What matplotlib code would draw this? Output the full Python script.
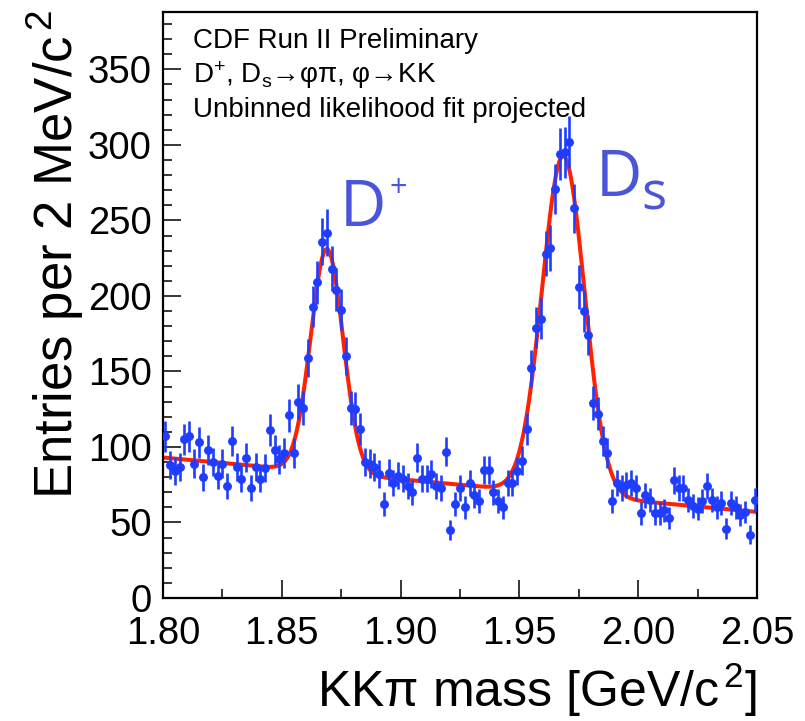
import numpy as np
import matplotlib
matplotlib.use("Agg")
import matplotlib.pyplot as plt
from matplotlib.ticker import MultipleLocator, FormatStrFormatter

# ---------------- data ----------------
mass_lo, mass_hi, bin_width = 1.80, 2.05, 0.002
counts = [107, 88, 84, 87, 105, 107, 89, 103, 80, 98,
          90, 81, 89, 74, 104, 87, 79, 93, 73, 87,
          79, 86, 111, 98, 92, 96, 121, 96, 130, 126,
          159, 193, 209, 236, 242, 218, 204, 191, 160, 126,
          125, 112, 90, 89, 87, 82, 62, 83, 76, 81,
          79, 74, 70, 93, 79, 79, 82, 74, 73, 97,
          45, 62, 73, 60, 76, 68, 64, 85, 85, 70,
          64, 60, 76, 76, 84, 91, 112, 152, 179, 185,
          228, 232, 271, 294, 295, 302, 258, 206, 190, 174,
          129, 122, 104, 96, 64, 76, 73, 75, 76, 73,
          56, 68, 65, 56, 56, 58, 53, 78, 73, 73,
          65, 61, 59, 64, 74, 65, 60, 63, 46, 63,
          60, 55, 57, 42, 65]

# fit projection parameters
bkg_at_lo = 93.0        # entries/bin at 1.80
bkg_slope = -144.0      # entries/bin per GeV
dplus_mean, dplus_sigma, dplus_amp = 1.8690, 0.0068, 148.0
ds_mean, ds_sigma, ds_amp = 1.9685, 0.0089, 224.0

xticks = [1.80, 1.85, 1.90, 1.95, 2.00, 2.05]
yticks = [0, 50, 100, 150, 200, 250, 300, 350]

# ---------------- figure ----------------
W, H = 805, 721
plt.rcParams['font.family'] = ['Liberation Sans', 'DejaVu Sans']
plt.rcParams['mathtext.fontset'] = 'custom'
plt.rcParams['mathtext.rm'] = 'Liberation Sans'
plt.rcParams['mathtext.it'] = 'Liberation Sans:italic'
plt.rcParams['mathtext.bf'] = 'Liberation Sans:bold'

fig = plt.figure(figsize=(W / 100, H / 100), dpi=100)
fig.patch.set_facecolor('white')

def px(x, y):
    return x / W, 1 - y / H

L, R, T, B = 163, 757, 12, 598
ax = fig.add_axes([L / W, 1 - B / H, (R - L) / W, (B - T) / H])

centers = mass_lo + bin_width * (np.arange(len(counts)) + 0.5)
counts_arr = np.array(counts, dtype=float)
errs = np.sqrt(counts_arr)

m = np.linspace(mass_lo, mass_hi, 1500)
model = (bkg_at_lo + bkg_slope * (m - mass_lo)
         + dplus_amp * np.exp(-0.5 * ((m - dplus_mean) / dplus_sigma) ** 2)
         + ds_amp * np.exp(-0.5 * ((m - ds_mean) / ds_sigma) ** 2))

ax.plot(m, model, color='#ff2200', lw=2.9, zorder=2, solid_capstyle='round')
ax.errorbar(centers, counts_arr, yerr=errs, fmt='o', color='#1f3dff',
            ms=5.4, elinewidth=1.9, capsize=0, zorder=3, mec='#1f3dff')

ax.set_xlim(mass_lo, mass_hi)
ax.set_ylim(0, 388)
ax.set_xticks(xticks)
ax.set_yticks(yticks)
ax.xaxis.set_major_formatter(FormatStrFormatter('%.2f'))
ax.xaxis.set_minor_locator(MultipleLocator(0.025))
ax.yaxis.set_minor_locator(MultipleLocator(10))
ax.tick_params(which='both', direction='in', top=False, right=False, colors='black')
ax.tick_params(which='major', length=12.8, width=1.1, labelsize=27.5)
ax.tick_params(which='minor', length=6.4, width=1.1)
ax.tick_params(axis='x', which='major', pad=13)
ax.tick_params(axis='y', which='major', pad=8)
for s in ax.spines.values():
    s.set_linewidth(1.6)
    s.set_color('black')

# axis titles
fig.text(*px(757, 707), 'KKπ mass [GeV/$\\mathrm{c}^{\\,2}$]', fontsize=36,
         ha='right', va='baseline')
fig.text(*px(25, 10), 'Entries per 2 MeV/$\\mathrm{c}^{\\,2}$', fontsize=38,
         rotation=90, ha='left', va='top')

# info text
fig.text(*px(193, 48), 'CDF Run II Preliminary', fontsize=20, va='baseline')
fig.text(*px(193, 83), 'D$^{+}$, D$_{\\mathrm{s}}$→φπ, φ→KK', fontsize=20, va='baseline')
fig.text(*px(193, 117), 'Unbinned likelihood fit projected', fontsize=20, va='baseline')

# peak labels
lab_col = '#4a55d8'
fam = ['Open Sans', 'DejaVu Sans']
fig.text(*px(340, 226), 'D', fontsize=46, color=lab_col, va='baseline', family=fam)
fig.text(*px(389, 197), '+', fontsize=22, color=lab_col, va='baseline', family=fam)
fig.text(*px(596, 196), 'D', fontsize=46, color=lab_col, va='baseline', family=fam)
fig.text(*px(641, 209), 's', fontsize=38, color=lab_col, va='baseline', family=fam)

fig.savefig('out.png', dpi=100, facecolor='white')
